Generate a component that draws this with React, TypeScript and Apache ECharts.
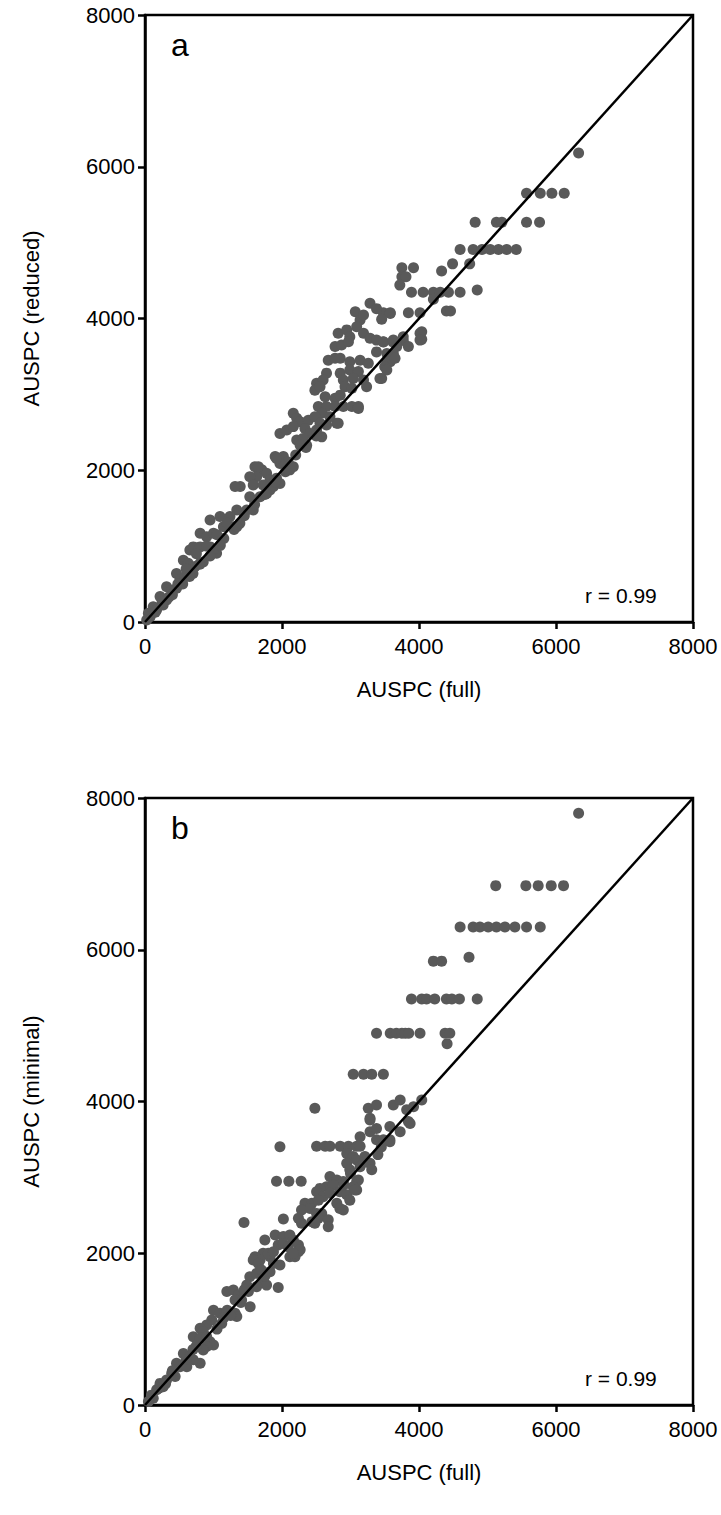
import React, { useEffect, useRef } from "react";
import * as echarts from "echarts";

const axisTicks = [0, 2000, 4000, 6000, 8000];
const axisMin = 0;
const axisMax = 8000;
const tickStep = 2000;

const xTitle = "AUSPC (full)";
const yTitleA = "AUSPC (reduced)";
const yTitleB = "AUSPC (minimal)";
const panelLetters = ["a", "b"];
const corrText = "r = 0.99";

// Panel a: full vs reduced
const aFull = [
  6330, 5570, 5770, 5940, 6120, 4820, 5130, 5210, 5570, 5760,
  4600, 4790, 4920, 5040, 5160, 5280, 5420, 4490, 4740, 4330,
  3750, 3920, 3750, 3810, 3720, 3890, 4060, 4210, 4310, 4430, 4600, 4850,
  4210, 4400, 4460, 3480, 3580, 3845, 4015, 4040, 4040, 3480, 3620, 3770,
  3845, 3530, 3625, 3530, 3580, 3455, 3285, 3380, 3070, 3140, 3190, 3580,
  3455, 2820, 2945, 2990, 3090, 3190, 3285, 3380, 3480, 3625, 3770,
  2775, 2870, 2970, 3675, 3380, 2675, 2775, 2850, 2990, 3140, 3260,
  3550, 3650, 3500, 3530, 2650, 2850, 2990, 3115, 2895, 3040, 3190, 3430,
  2505, 2600, 2480, 2555, 2920, 3020, 3235, 2630, 2775, 2850,
  2530, 2650, 2775, 2895, 3020, 3115, 2580, 2700, 2165, 2215, 2265,
  2385, 2480, 2555, 2650, 2800, 1970, 2070, 2165, 2335, 2410, 2505,
  2215, 2310, 2580, 2265, 2360, 1900, 2020, 2090, 1970, 2115, 2165,
  1605, 1705, 1775, 1630, 1825, 1920, 1970, 3115, 2820, 4015, 4015,
  1655, 1920, 1530, 1580, 1390, 1315, 1725, 1825, 1875, 1530, 1680, 1775,
  1340, 1485, 1580, 950, 1095, 1240, 1145, 1290, 1385, 805, 900, 1000,
  1045, 950, 655, 705, 805, 560, 630, 730, 805, 460, 510, 585, 630,
  315, 390, 460, 535, 220, 315, 265, 120, 170, 50, 75, 25,
  400, 550, 700, 850, 1000, 1150, 1300, 1450, 1600, 1750, 1900, 2050,
  2200, 2350, 2500, 600, 750, 900, 1050, 1200, 150, 250, 350, 480, 650,
  800, 950, 1100, 1340
];
const aReduced = [
  6180, 5650, 5650, 5650, 5650, 5270, 5270, 5270, 5270, 5270,
  4910, 4910, 4910, 4910, 4910, 4910, 4910, 4720, 4720, 4625,
  4670, 4670, 4550, 4550, 4440, 4345, 4345, 4345, 4345, 4345, 4345, 4375,
  4255, 4100, 4100, 4075, 4075, 4075, 4075, 3825, 3725, 3690, 3690, 3710,
  3630, 3540, 3540, 3410, 3430, 3210, 4200, 4130, 4090, 3980, 4045, 4065,
  3990, 3805, 3850, 3760, 3890, 3805, 3740, 3715, 3695, 3715, 3760,
  3630, 3650, 3695, 3630, 3560, 3450, 3475, 3475, 3430, 3450, 3410,
  3430, 3475, 3365, 3320, 3280, 3280, 3320, 3300, 3190, 3210, 3190, 3210,
  3145, 3190, 3055, 3100, 3100, 3080, 3100, 2970, 2950, 2990,
  2840, 2840, 2840, 2840, 2840, 2840, 2750, 2705, 2750, 2685, 2640,
  2660, 2705, 2620, 2595, 2620, 2485, 2530, 2575, 2550, 2485, 2530,
  2400, 2420, 2440, 2330, 2330, 2180, 2180, 2110, 2090, 2005, 2045,
  2045, 2005, 1960, 1915, 1870, 1895, 1825, 2815, 2620, 3805, 3715,
  2045, 2155, 1915, 1805, 1785, 1785, 1805, 1740, 1785, 1650, 1650, 1695,
  1475, 1475, 1475, 1345, 1390, 1390, 1255, 1255, 1300, 1170, 1125, 1170,
  905, 990, 950, 990, 990, 815, 775, 730, 775, 640, 555, 595, 640,
  465, 420, 445, 510, 335, 290, 225, 200, 160, 115, 70, 25,
  360, 500, 640, 790, 960, 1100, 1220, 1400, 1550, 1680, 1850, 1980,
  2200, 2300, 2450, 700, 900, 1000, 1150, 1300, 130, 260, 330, 500, 600,
  760, 870, 1010, 1255
];

// Panel b: full vs minimal
const bFull = [
  6330, 5120, 5560, 5740, 5930, 6110,
  4600, 4790, 4890, 5010, 5130, 5255, 5400, 5570, 5770,
  4210, 4330, 4730,
  3890, 4040, 4110, 4230, 4400, 4480, 4590, 4850,
  3380, 3580, 3670, 3750, 3800, 3850, 4015, 4380, 4450, 4410,
  3040, 3190, 3310, 3480, 2480, 3260, 3380,
  3625, 3725, 3820, 3920, 4040, 3285, 3845, 3575, 3725, 3285, 3140,
  3380, 3480, 3575, 1970,
  2505, 2630, 2700, 2850, 2970, 3090, 3140,
  2945, 3040, 2945, 3090, 3210, 3285, 3310, 2990, 3140,
  1920, 2100, 2280, 2700, 2800, 2895, 2650, 2555, 2750,
  3090, 3115, 3040, 3090, 2845, 2945, 2990, 2505, 2600, 2700, 3065,
  2335, 2435, 2530, 2800, 2845, 2895, 2285, 2410, 2505, 2580,
  2240, 2285, 2435, 2530, 2675, 2675, 2020, 2480,
  1750, 1900, 2020, 2115, 2165, 1945, 2020, 2090, 2240, 2240,
  1725, 1825, 1605, 1680, 2115, 2190, 1445, 2265, 2165,
  1580, 1655, 1800, 1875, 1875, 1970, 1825,
  1530, 1630, 1725, 1775, 1630, 1945, 1485, 1510,
  1195, 1290, 1365, 1410, 1315, 1535, 1315, 1340,
  1000, 1095, 1120, 975, 900, 805, 850, 705, 805,
  900, 950, 1000, 900, 850, 805, 560, 655, 705, 460, 510, 610,
  390, 440, 315, 220, 265, 170, 95, 120, 50,
  3285, 3380, 3870, 3575,
  600, 750, 1050, 1200, 1400, 1150, 1250, 700, 400, 300, 200, 1700,
  1750, 1450, 3400, 3450, 3200, 3000, 2900
];
const bMinimal = [
  7800, 6845, 6845, 6845, 6845, 6845,
  6300, 6300, 6300, 6300, 6300, 6300, 6300, 6300, 6300,
  5850, 5850, 5900,
  5350, 5350, 5350, 5350, 5350, 5350, 5350, 5350,
  4900, 4900, 4900, 4900, 4900, 4900, 4900, 4900, 4900, 4760,
  4360, 4360, 4360, 4360, 3910, 3910, 3955,
  3955, 4020, 3890, 3930, 4020, 3780, 3735, 3670, 3600, 3600, 3535,
  3495, 3495, 3495, 3405,
  3410, 3410, 3410, 3410, 3410, 3410, 3410,
  3315, 3275, 3185, 3230, 3275, 3185, 3100, 3100, 3140,
  2950, 2950, 2950, 3010, 2965, 2945, 2875, 2855, 2900,
  2945, 2965, 2875, 2835, 2810, 2770, 2700, 2810, 2745, 2790, 2835,
  2660, 2660, 2700, 2660, 2590, 2570, 2570, 2590, 2525, 2525,
  2460, 2395, 2415, 2460, 2440, 2350, 2450, 2395,
  2175, 2240, 2220, 2240, 2175, 2110, 2130, 2085, 2110, 2020,
  2000, 1955, 1955, 1910, 1955, 1955, 2405, 2045, 2000,
  1910, 1865, 2000, 2020, 1865, 1845, 1755,
  1690, 1735, 1645, 1580, 1560, 1550, 1580, 1495,
  1495, 1515, 1450, 1385, 1385, 1295, 1210, 1165,
  1250, 1210, 1075, 1120, 1055, 1010, 965, 900, 880,
  900, 835, 790, 770, 725, 550, 680, 635, 595, 550, 505, 505,
  420, 375, 330, 285, 240, 200, 130, 90, 45,
  3755, 3645, 3710, 3470,
  600, 780, 1000, 1250, 1350, 1150, 1180, 730, 450, 280, 220, 1780,
  1700, 1520, 3300, 3400, 3200, 3050, 2900
];

const identityLine = [
  [axisMin, axisMin],
  [axisMax, axisMax],
];

const DOT = "#595959";
const FONT = "Liberation Sans, Arial, sans-serif";

function App() {
  const ref = useRef<HTMLDivElement>(null);
  useEffect(() => {
    document.body.style.margin = "0";
    if (!ref.current) return;
    const chart = echarts.init(ref.current, null, { renderer: "svg" });
    const grids = [
      { left: 145, top: 15, width: 548, height: 607 },
      { left: 145, top: 798, width: 548, height: 607 },
    ];
    const axisCommon = {
      type: "value" as const,
      min: axisMin,
      max: axisMax,
      interval: tickStep,
      splitLine: { show: false },
      axisLine: { show: true, lineStyle: { color: "#000", width: 2.5 } },
      axisTick: { show: true, inside: false, length: 7, lineStyle: { color: "#000", width: 2.5 } },
      axisLabel: {
        color: "#000",
        fontSize: 22,
        fontFamily: FONT,
        formatter: (v: number) => (axisTicks.includes(v) ? String(v) : ""),
      },
      nameTextStyle: { color: "#000", fontSize: 22, fontFamily: FONT },
    };
    const mk = (full: number[], other: number[]) => full.map((v, k) => [v, other[k]]);
    const option: any = {
      animation: false,
      backgroundColor: "#fff",
      grid: grids.map((g) => ({
        ...g,
        show: true,
        borderColor: "#000",
        borderWidth: 2.5,
        backgroundColor: "transparent",
      })),
      xAxis: [0, 1].map((i) => ({
        ...axisCommon,
        gridIndex: i,
        name: xTitle,
        nameLocation: "middle",
        nameGap: 56,
        axisLabel: { ...axisCommon.axisLabel, margin: 13 },
      })),
      yAxis: [0, 1].map((i) => ({
        ...axisCommon,
        gridIndex: i,
        name: i === 0 ? yTitleA : yTitleB,
        nameLocation: "middle",
        nameGap: 103,
        axisLabel: { ...axisCommon.axisLabel, margin: 10 },
      })),
      series: [
        {
          type: "scatter",
          xAxisIndex: 0,
          yAxisIndex: 0,
          data: mk(aFull, aReduced),
          symbolSize: 11,
          itemStyle: { color: DOT, opacity: 1 },
          z: 2,
        },
        {
          type: "scatter",
          xAxisIndex: 1,
          yAxisIndex: 1,
          data: mk(bFull, bMinimal),
          symbolSize: 11,
          itemStyle: { color: DOT, opacity: 1 },
          z: 2,
        },
        ...[0, 1].map((i) => ({
          type: "line",
          xAxisIndex: i,
          yAxisIndex: i,
          data: identityLine,
          symbol: "none",
          lineStyle: { color: "#000", width: 2.5 },
          z: 3,
        })),
      ],
      graphic: [
        ...grids.map((g, i) => ({
          type: "text",
          left: g.left + 26,
          top: g.top + 14,
          style: { text: panelLetters[i], fontSize: 32, fontFamily: FONT, fill: "#000" },
        })),
        ...grids.map((g) => ({
          type: "text",
          left: g.left + 440,
          top: g.top + g.height - 37,
          style: { text: corrText, fontSize: 21, fontFamily: FONT, fill: "#000" },
        })),
      ],
    };
    chart.setOption(option);
    return () => chart.dispose();
  }, []);
  return <div ref={ref} style={{ width: 721, height: 1515 }} />;
}

export default App;
